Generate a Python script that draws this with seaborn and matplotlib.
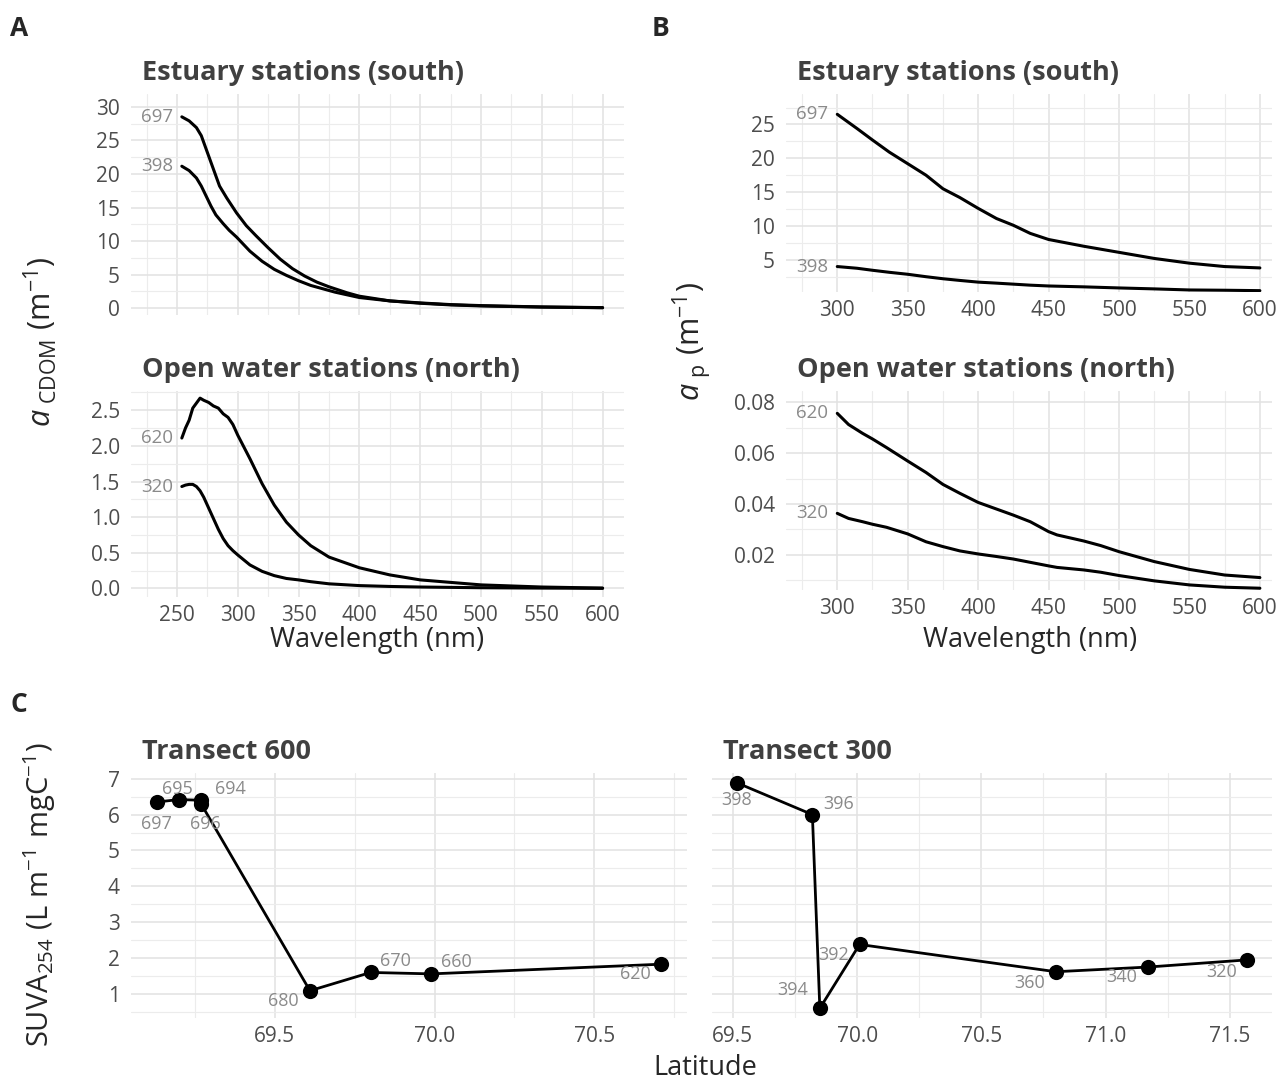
import numpy as np
import pandas as pd
import matplotlib
matplotlib.use("Agg")
import matplotlib.pyplot as plt
from matplotlib.ticker import MultipleLocator, AutoMinorLocator
import seaborn as sns

# ---- data ----
# A: CDOM absorption, estuary stations (south)
wl_cdom_697 = [254, 260, 266, 270, 274, 277, 280, 285, 291, 299, 307, 315, 325, 335, 345, 355,
               365, 375, 390, 400, 425, 450, 475, 500, 550, 600]
cdom_697 = [28.5, 27.9, 26.9, 25.7, 23.7, 22.2, 20.7, 18.2, 16.4, 14.2, 12.3, 10.8, 9.0, 7.3,
            5.9, 4.8, 3.9, 3.2, 2.3, 1.8, 1.1, 0.8, 0.55, 0.4, 0.2, 0.1]
wl_cdom_398 = [254, 260, 266, 270, 274, 278, 282, 288, 293, 299, 310, 320, 330, 340, 350, 360,
               370, 380, 390, 400, 425, 450, 475, 500, 550, 600]
cdom_398 = [21.15, 20.5, 19.4, 18.2, 16.7, 15.2, 13.9, 12.6, 11.6, 10.6, 8.5, 7.0, 5.8, 4.9,
            4.1, 3.4, 2.9, 2.4, 2.0, 1.6, 1.1, 0.75, 0.5, 0.35, 0.18, 0.08]

# A: CDOM absorption, open water stations (north)
wl_cdom_open = [254, 257, 260, 263, 266, 269, 272, 276, 280, 284, 288, 292, 296, 300, 310,
                320, 330, 340, 350, 360, 375, 400, 425, 450, 500, 550, 600]
cdom_620 = [2.11, 2.25, 2.36, 2.53, 2.60, 2.67, 2.64, 2.61, 2.56, 2.53, 2.45, 2.40, 2.30, 2.15, 1.82,
            1.47, 1.17, 0.93, 0.75, 0.60, 0.44, 0.29, 0.19, 0.12, 0.05, 0.02, 0.005]
cdom_320 = [1.43, 1.45, 1.46, 1.46, 1.43, 1.37, 1.28, 1.13, 0.98, 0.83, 0.70, 0.60, 0.53, 0.47, 0.33,
            0.24, 0.18, 0.14, 0.12, 0.095, 0.065, 0.04, 0.028, 0.02, 0.01, 0.005, 0.002]

# B: particulate absorption, estuary stations
wl_ap_est = [300, 314, 325, 337, 350, 363, 375, 387, 400, 413, 425, 437, 450, 475, 500,
             525, 550, 575, 600]
ap_697 = [26.5, 24.4, 22.7, 20.9, 19.2, 17.5, 15.5, 14.2, 12.6, 11.1, 10.1, 8.9, 8.0, 7.0, 6.1,
          5.2, 4.5, 4.0, 3.8]
ap_398 = [4.0, 3.75, 3.45, 3.15, 2.86, 2.5, 2.2, 1.95, 1.7, 1.55, 1.4, 1.25, 1.13, 1.0, 0.84,
          0.7, 0.54, 0.5, 0.44]

# B: particulate absorption, open water stations
wl_ap_open = [300, 308, 318, 325, 335, 350, 363, 375, 387, 400, 413, 425, 437, 450, 456,
              475, 487, 500, 525, 550, 575, 600]
ap_620 = [0.0757, 0.0713, 0.0678, 0.0656, 0.0622, 0.0569, 0.0524, 0.0477, 0.0442, 0.0406, 0.0380,
          0.0356, 0.0330, 0.0291, 0.0278, 0.0254, 0.0236, 0.0212, 0.0173, 0.0142, 0.0120, 0.0110]
ap_320 = [0.0363, 0.0343, 0.0330, 0.0320, 0.0308, 0.0282, 0.0251, 0.0232, 0.0215, 0.0203, 0.0193,
          0.0183, 0.0170, 0.0156, 0.0150, 0.0140, 0.0131, 0.0118, 0.0097, 0.0081, 0.0072, 0.0068]

# C: SUVA254 along transects
t600_station = ["697", "695", "694", "696", "680", "670", "660", "620"]
t600_lat = [69.13, 69.20, 69.27, 69.27, 69.61, 69.80, 69.99, 70.71]
t600_suva = [6.35, 6.42, 6.40, 6.29, 1.09, 1.60, 1.56, 1.83]

t300_station = ["398", "396", "394", "392", "360", "340", "320"]
t300_lat = [69.515, 69.82, 69.85, 70.01, 70.80, 71.17, 71.57]
t300_suva = [6.89, 6.00, 0.60, 2.38, 1.62, 1.75, 1.95]

# ---- style ----
sns.set_theme(style="white")
plt.rcParams["font.family"] = ["Open Sans", "DejaVu Sans"]
plt.rcParams["mathtext.fontset"] = "custom"
plt.rcParams["mathtext.rm"] = "Open Sans"
plt.rcParams["mathtext.it"] = "Open Sans:italic"

TICK = "#4d4d4d"
LAB = "#8a8a8a"
TITLE = "#404040"

W, H = 1278, 1082
fig = plt.figure(figsize=(W / 100, H / 100), dpi=100)


def box(l, t, r, b):
    return [l / W, 1 - b / H, (r - l) / W, (b - t) / H]


def style(ax, xmaj, ymaj, xlabels=True, ylabels=True):
    ax.xaxis.set_major_locator(MultipleLocator(xmaj))
    ax.yaxis.set_major_locator(MultipleLocator(ymaj))
    ax.xaxis.set_minor_locator(AutoMinorLocator(2))
    ax.yaxis.set_minor_locator(AutoMinorLocator(2))
    ax.grid(which="major", color="#e2e2e2", lw=1.1)
    ax.grid(which="minor", color="#ececec", lw=0.8)
    ax.set_axisbelow(True)
    for s in ax.spines.values():
        s.set_visible(False)
    ax.tick_params(which="both", length=0, labelsize=15, colors=TICK)
    ax.tick_params(axis="y", pad=8)
    ax.tick_params(axis="x", pad=6)
    if not xlabels:
        ax.tick_params(axis="x", labelbottom=False)
    if not ylabels:
        ax.tick_params(axis="y", labelleft=False)
    ax.set_xlabel("")
    ax.set_ylabel("")


def spectra(ax, curves, title, xlim, ylim, xmaj, ymaj, xlabels=True, yfmt=None):
    rows = []
    for name, wl, vals in curves:
        rows += [{"wl": w, "a": v, "station": name} for w, v in zip(wl, vals)]
    df = pd.DataFrame(rows)
    sns.lineplot(data=df, x="wl", y="a", units="station", estimator=None,
                 color="black", lw=2.2, ax=ax, legend=False)
    for name, wl, vals in curves:
        ax.annotate(name, (wl[0], vals[0]), xytext=(-9, 0), textcoords="offset pixels",
                    ha="right", va="center", fontsize=13.5, color=LAB)
    ax.set_xlim(*xlim)
    ax.set_ylim(*ylim)
    style(ax, xmaj, ymaj, xlabels=xlabels)
    if yfmt:
        ax.yaxis.set_major_formatter(yfmt)
    ax.set_title(title, loc="left", fontsize=19.5, fontweight="bold", color=TITLE, pad=10, x=0.022)


# Panel A
axA1 = fig.add_axes(box(131, 94, 624, 315))
spectra(axA1, [("697", wl_cdom_697, cdom_697), ("398", wl_cdom_398, cdom_398)],
        "Estuary stations (south)", (212.2, 617.6), (-1.0, 31.9), 50, 5, xlabels=False)
axA2 = fig.add_axes(box(131, 391, 624, 597))
spectra(axA2, [("620", wl_cdom_open, cdom_620), ("320", wl_cdom_open, cdom_320)],
        "Open water stations (north)", (212.2, 617.6), (-0.12, 2.77), 50, 0.5,
        yfmt=plt.FormatStrFormatter("%.1f"))

# Panel B
axB1 = fig.add_axes(box(786, 94, 1272, 292))
spectra(axB1, [("697", wl_ap_est, ap_697), ("398", wl_ap_est, ap_398)],
        "Estuary stations (south)", (263.6, 608.6), (0.24, 29.5), 50, 5)
axB1.set_yticks([5, 10, 15, 20, 25])
axB2 = fig.add_axes(box(786, 391, 1272, 590))
spectra(axB2, [("620", wl_ap_open, ap_620), ("320", wl_ap_open, ap_320)],
        "Open water stations (north)", (263.6, 608.6), (0.0061, 0.0845), 50, 0.02,
        yfmt=plt.FormatStrFormatter("%.2f"))
axB2.set_yticks([0.02, 0.04, 0.06, 0.08])
axB2.yaxis.set_minor_locator(MultipleLocator(0.01))


# Panel C
def transect(ax, stations, lat, suva, title, offsets, xlim, ylabels=True):
    df = pd.DataFrame({"lat": lat, "suva": suva, "station": stations})
    sns.lineplot(data=df, x="lat", y="suva", sort=False, estimator=None,
                 color="black", lw=2.0, ax=ax)
    sns.scatterplot(data=df, x="lat", y="suva", color="black", s=120,
                    edgecolor="black", linewidth=0, zorder=3, ax=ax)
    for st, x, y in zip(stations, lat, suva):
        dx, dy = offsets[st]
        ax.annotate(st, (x, y), xytext=(dx, -dy), textcoords="offset pixels",
                    ha="center", va="center", fontsize=13, color=LAB, zorder=4)
    ax.set_xlim(*xlim)
    ax.set_ylim(0.33, 7.16)
    style(ax, 0.5, 1, ylabels=ylabels)
    ax.xaxis.set_major_formatter(plt.FormatStrFormatter("%.1f"))
    ax.set_title(title, loc="left", fontsize=19.5, fontweight="bold", color=TITLE, pad=10, x=0.02)


off600 = {"697": (0, 22), "695": (-2, -11), "694": (29, -11), "696": (4, 20),
          "680": (-27, 10), "670": (25, -11), "660": (25, -12), "620": (-26, 10)}
off300 = {"398": (0, 17), "396": (26, -11), "394": (-27, -18), "392": (-26, 11),
          "360": (-26, 11), "340": (-26, 10), "320": (-26, 12)}

axC1 = fig.add_axes(box(131, 773, 687, 1018))
transect(axC1, t600_station, t600_lat, t600_suva, "Transect 600", off600, (69.05, 70.79))
axC2 = fig.add_axes(box(712, 773, 1272, 1018))
transect(axC2, t300_station, t300_lat, t300_suva, "Transect 300", off300, (69.416, 71.67),
         ylabels=False)

# shared axis titles and panel tags
fig.text(377 / W, 1 - 640 / H, "Wavelength (nm)", ha="center", va="center", fontsize=19.5)
fig.text(1030 / W, 1 - 640 / H, "Wavelength (nm)", ha="center", va="center", fontsize=19.5)
fig.text(705 / W, 1 - 1068 / H, "Latitude", ha="center", va="center", fontsize=19.5)
fig.text(40 / W, 1 - 342 / H, r"$\it{a}_{\rm\ CDOM}\ \rm{(m^{-1})}$", rotation=90,
         ha="center", va="center", fontsize=22)
fig.text(692 / W, 1 - 342 / H, r"$\it{a}_{\rm\ p}\ \rm{(m^{-1})}$", rotation=90,
         ha="center", va="center", fontsize=22)
fig.text(40 / W, 1 - 895 / H, r"$\rm{SUVA_{254}\ (L\ m^{-1}\ mgC^{-1})}$", rotation=90,
         ha="center", va="center", fontsize=21)

for tag, x, y in [("A", 10, 29), ("B", 652, 29), ("C", 10, 705)]:
    fig.text(x / W, 1 - y / H, tag, ha="left", va="center", fontsize=19, fontweight="bold")

fig.savefig("out.png", dpi=100, facecolor="white")
